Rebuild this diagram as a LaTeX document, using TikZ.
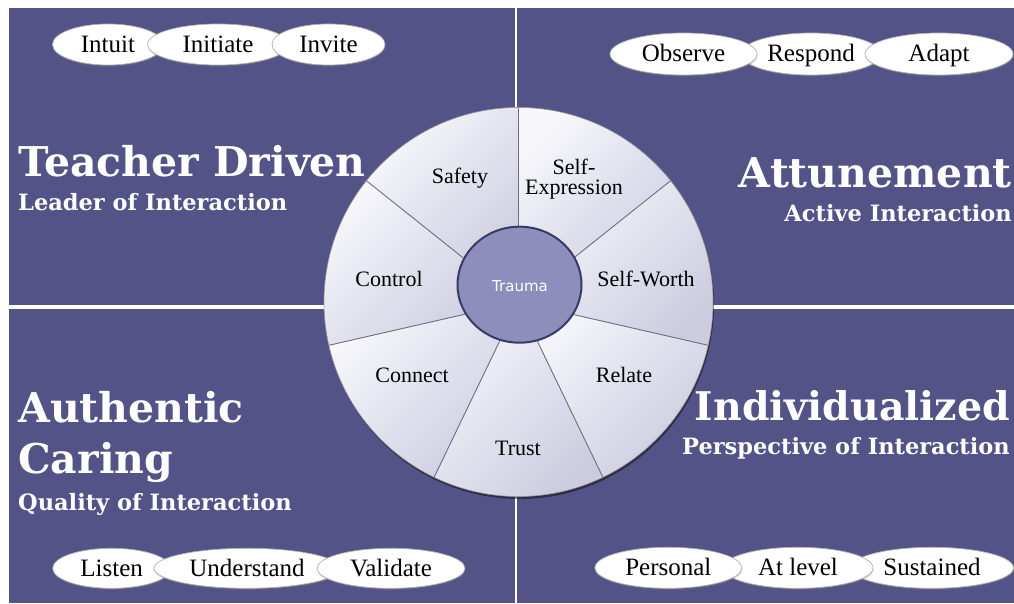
\documentclass[tikz,border=0pt]{standalone}
\usepackage{fontspec}
\setmainfont{Liberation Serif}
\newfontfamily\headfont{DejaVu Serif}
\newfontfamily\hubfont{DejaVu Sans}
\usetikzlibrary{shapes.geometric,shadows}

\definecolor{panel}{RGB}{84,83,135}
\definecolor{wedgelight}{RGB}{246,246,251}
\definecolor{wedgedark}{RGB}{204,204,224}
\definecolor{hubfill}{RGB}{142,142,188}
\definecolor{hubline}{RGB}{58,58,104}
\definecolor{spokeline}{RGB}{110,110,128}

\tikzset{
  title/.style={text=white, inner sep=0pt,
    font=\headfont\bfseries\fontsize{41}{45}\selectfont},
  subtitle/.style={text=white, inner sep=0pt,
    font=\headfont\bfseries\fontsize{22.5}{26}\selectfont},
  pill/.style 2 args={ellipse, fill=white, draw=black!30, line width=0.7pt,
    inner sep=0pt, minimum width=#1, minimum height=#2,
    text height=16pt, text depth=0pt,
    font=\fontsize{25}{28}\selectfont,
    drop shadow={opacity=0.35, shadow xshift=0.5pt, shadow yshift=-1.5pt}},
  seglabel/.style={inner sep=0pt, align=center,
    font=\fontsize{22}{20.3}\selectfont},
  wedge/.style={top color=wedgelight, bottom color=wedgedark, shading angle=45},
  spoke/.style={draw=spokeline, line width=0.9pt},
}

\begin{document}
\begin{tikzpicture}[x=1pt, y=1pt]
  \useasboundingbox (0,0) rectangle (1014,603);
  \fill[white] (0,0) rectangle (1014,603);

  % four panels
  \fill[panel] (9,297.5) rectangle (515,595);
  \fill[panel] (517,297.5) rectangle (1014,595);
  \fill[panel] (9,0) rectangle (515,293.5);
  \fill[panel] (517,0) rectangle (1014,293.5);

  % wheel
  \coordinate (wc) at (518.5,301);
  \fill[black, opacity=0.45] (519.5,298.5) circle (194.5);
  \foreach \a/\b in {90/141.43, 38.57/90, -12.86/38.57, -64.29/-12.86,
                     -115.71/-64.29, -167.14/-115.71, 141.43/192.86}
    \shade[wedge] (wc) -- ++(\a:194.5) arc[start angle=\a, end angle=\b, radius=194.5] -- cycle;
  \foreach \a in {90, 38.57, -12.86, -64.29, -115.71, -167.14, 141.43}
    \draw[spoke] (wc) -- ++(\a:194.5);
  \draw[black!40, line width=0.6pt] (wc) circle (194.5);

  % hub
  \node[ellipse, fill=hubfill, draw=hubline, line width=2pt,
        minimum width=124pt, minimum height=116pt, inner sep=0pt] (hub) at (519.5,318.3) {};
  \node[inner sep=0pt, text=white, font=\hubfont\fontsize{15}{18}\selectfont] (trauma) at (520,317) {Trauma};

  % wheel labels
  \node[seglabel, anchor=base] (safety) at (460,419.7) {Safety};
  \node[seglabel] (selfexp) at (574,424) {Self-\\Expression};
  \node[seglabel, anchor=base] (selfworth) at (646,316.3) {Self-Worth};
  \node[seglabel, anchor=base] (relate) at (624,220.3) {Relate};
  \node[seglabel, anchor=base] (trust) at (518,148) {Trust};
  \node[seglabel, anchor=base] (connect) at (412,220.3) {Connect};
  \node[seglabel, anchor=base] (control) at (389,316.3) {Control};

  % panel headings
  \node[title, anchor=base west] (teacher) at (18,426) {Teacher Driven};
  \node[subtitle, anchor=base west] (leader) at (18,392) {Leader of Interaction};
  \node[title, anchor=base east] (attune) at (1012,415) {Attunement};
  \node[subtitle, anchor=base east] (active) at (1012,381) {Active Interaction};
  \node[title, anchor=base west] (authentic) at (18,181) {Authentic};
  \node[title, anchor=base west] (caring) at (18,130) {Caring};
  \node[subtitle, anchor=base west] (quality) at (18,93) {Quality of Interaction};
  \node[title, anchor=base east, font=\headfont\bfseries\fontsize{39.5}{44}\selectfont] (indiv) at (1010,183) {Individualized};
  \node[subtitle, anchor=base east] (persp) at (1010,149) {Perspective of Interaction};

  % action ovals, top left
  \node[pill={111pt}{41pt}] (intuit) at (108,558.5) {Intuit};
  \node[pill={141pt}{41pt}] (initiate) at (218,558.5) {Initiate};
  \node[pill={113pt}{41pt}] (invite) at (328.5,558.5) {Invite};

  % action ovals, top right
  \node[pill={140pt}{42pt}] (respond) at (811,549) {Respond};
  \node[pill={147pt}{42pt}] (observe) at (683.5,549) {Observe};
  \node[pill={148pt}{42pt}] (adapt) at (939,549) {Adapt};

  % action ovals, bottom left
  \node[pill={118pt}{40pt}] (listen) at (111.7,34.7) {Listen};
  \node[pill={186pt}{40pt}] (understand) at (247,34.7) {Understand};
  \node[pill={148pt}{40pt}] (validate) at (391,34.7) {Validate};

  % action ovals, bottom right
  \node[pill={163pt}{41pt}] (sustained) at (932,35.2) {Sustained};
  \node[pill={150pt}{41pt}] (atlevel) at (798,35.2) {At level};
  \node[pill={147pt}{41pt}] (personal) at (668.3,35.2) {Personal};
\end{tikzpicture}
\end{document}
